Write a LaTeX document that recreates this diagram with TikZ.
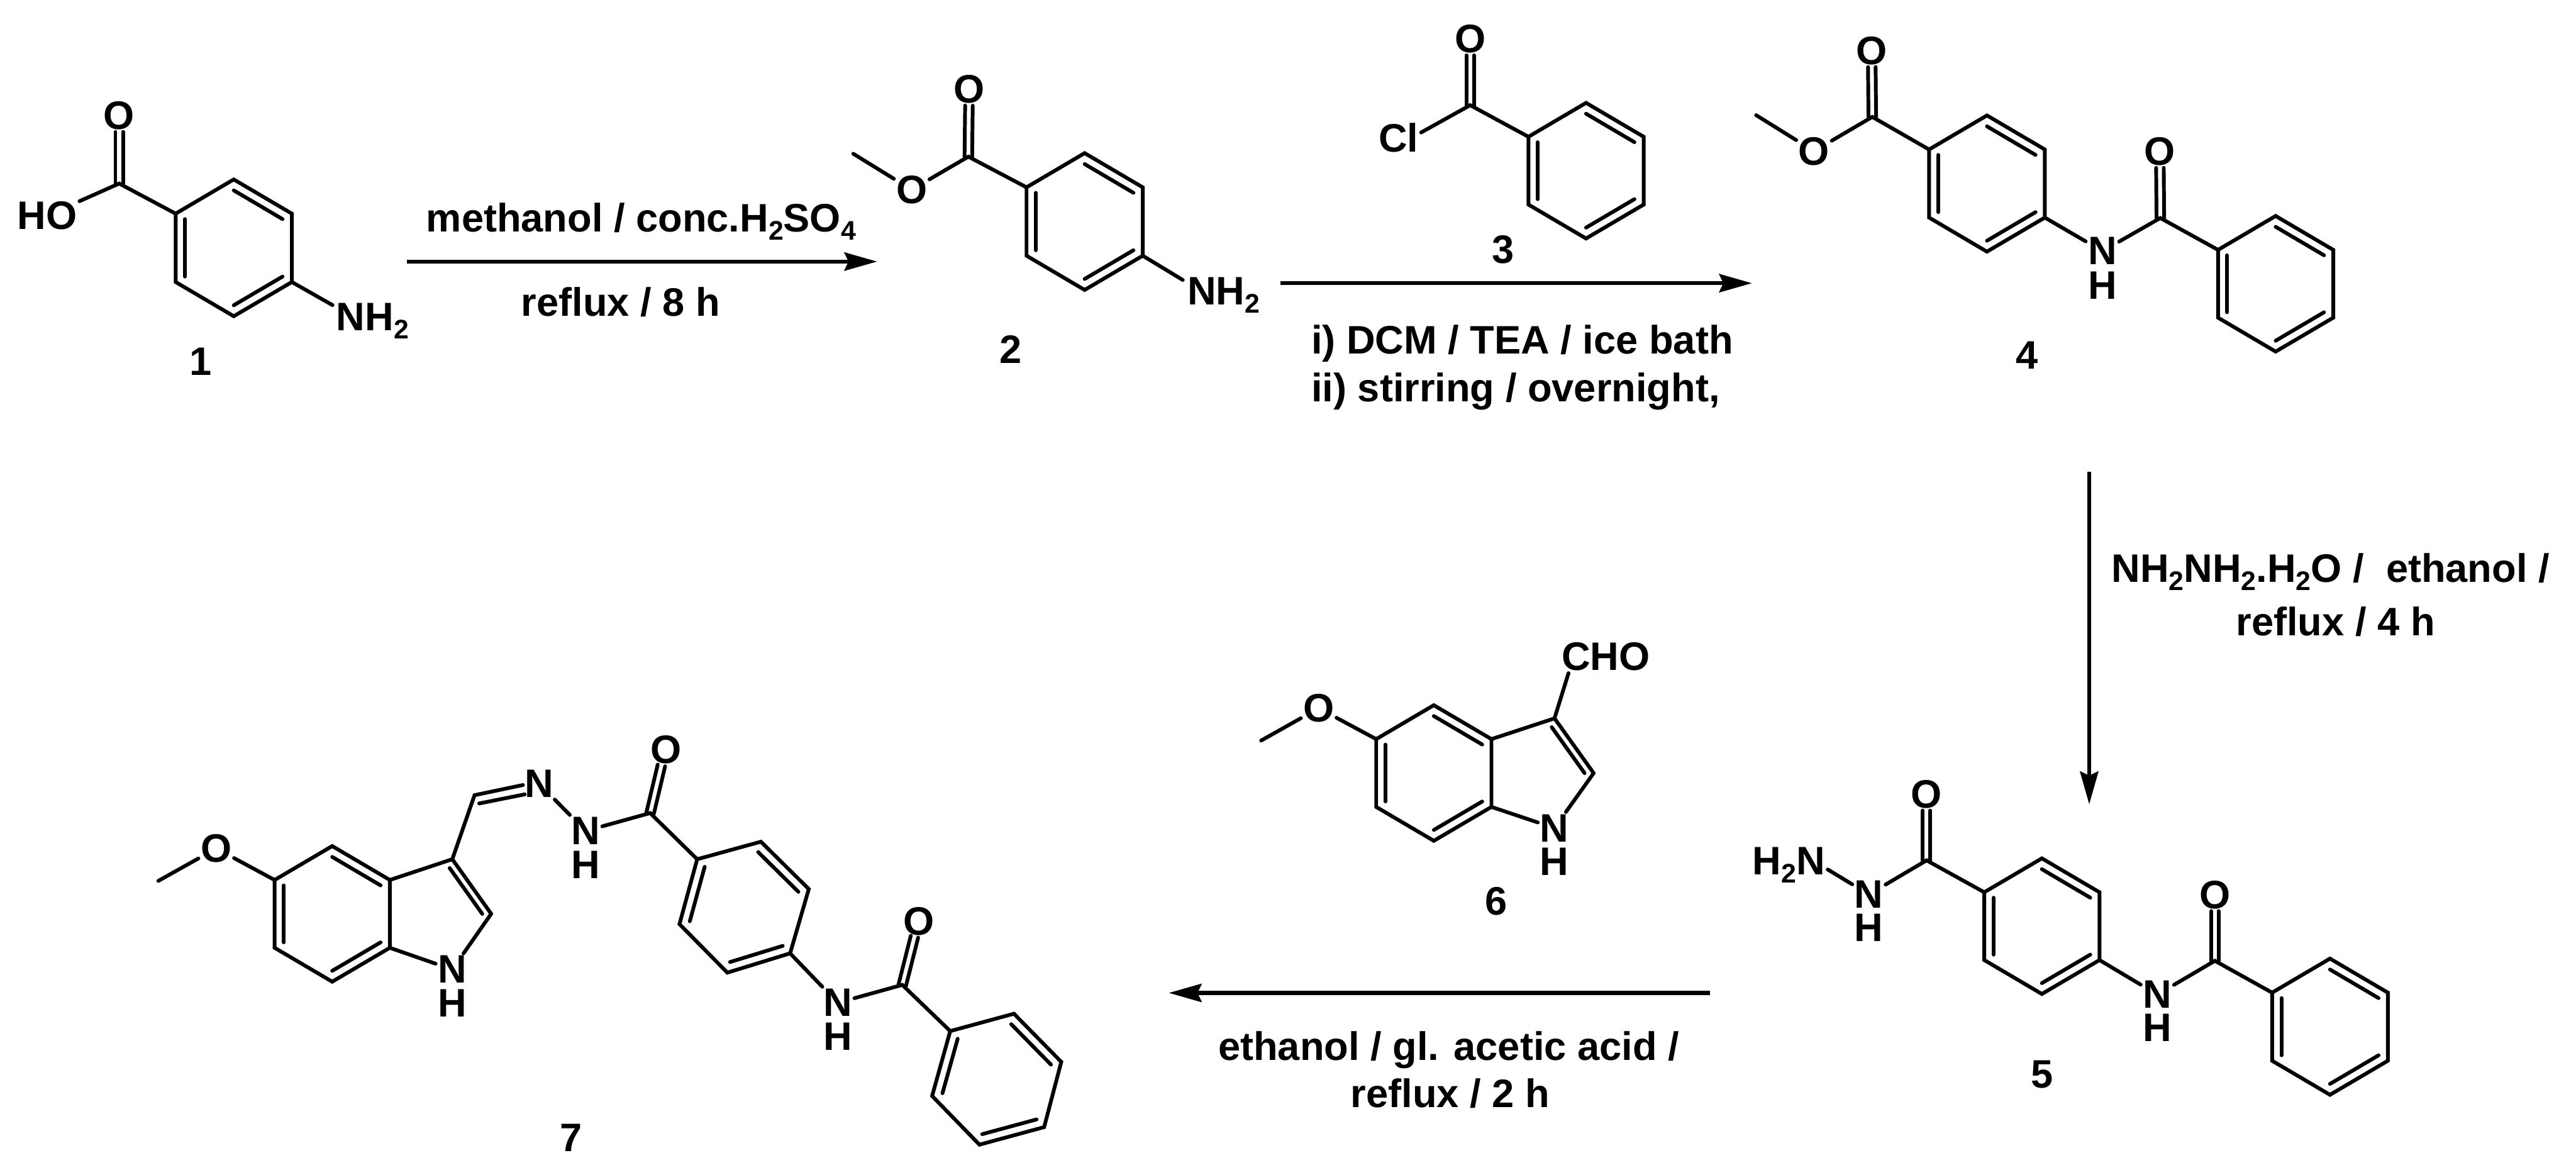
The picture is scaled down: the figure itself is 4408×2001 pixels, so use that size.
\documentclass[tikz,border=0pt]{standalone}
\usepackage{fontspec}
\setmainfont{Liberation Sans}
\usetikzlibrary{calc,arrows.meta}
\tikzset{
  bond/.style={line width=3.2pt,line cap=round,line join=miter,miter limit=6,black},
  rxn/.style={line width=3.5pt,black,-{Stealth[length=28pt,width=15.5pt,inset=3.5pt,sep=0pt]}},
  lab/.style={inner sep=0pt,outer sep=2pt,anchor=base,font=\fontsize{34}{40}\selectfont\bfseries,text=black},
  lablw/.style={lab,anchor=base west}
}
\newcommand{\ssub}[1]{\raisebox{-7pt}[0pt][0pt]{\fontsize{23}{23}\selectfont\bfseries #1}}
\newcommand{\innerbond}[3]{\draw[bond] ($(#1)!0.16!(#3)$) -- ($(#2)!0.16!(#3)$);}
\newcommand{\ringbody}[1]{%
  \draw[bond] (#1v1) -- (#1v2) -- (#1v3) -- (#1v4) -- (#1v5) -- (#1v6) -- cycle;
  \innerbond{#1v6}{#1v5}{#1C}
  \innerbond{#1v1}{#1v2}{#1C}
  \innerbond{#1v3}{#1v4}{#1C}}
\newcommand{\benz}[4]{%
  \coordinate (#1C) at (#2,#3);
  \coordinate (#1v1) at (#2,{#3-#4});
  \coordinate (#1v2) at ({#2+0.85*#4},{#3-0.5*#4});
  \coordinate (#1v3) at ({#2+0.85*#4},{#3+0.5*#4});
  \coordinate (#1v4) at (#2,{#3+#4});
  \coordinate (#1v5) at ({#2-0.85*#4},{#3+0.5*#4});
  \coordinate (#1v6) at ({#2-0.85*#4},{#3-0.5*#4});
  \ringbody{#1}}
% double C=O: two parallel strokes, from carbon #1 to end #2
\newcommand{\dbl}[2]{%
  \draw[bond] ($(#1)!6.5*0.5pt!90:(#2)$) -- ($(#2)!6.5*0.5pt!-90:(#1)$);
  \draw[bond] ($(#1)!6.5*0.5pt!-90:(#2)$) -- ($(#2)!6.5*0.5pt!90:(#1)$);}
\begin{document}
\begin{tikzpicture}[x=0.5pt,y=-0.5pt]
\useasboundingbox (0,0) rectangle (4408,2001);
\fill[white] (0,0) rectangle (4408,2001);

% ---------- compound 1
\benz{a}{400}{424}{117}
\coordinate (aC1) at (204,314);
\node[lab] (aO) at (204,221) {O};
\node[lab] (aHO) at (81,392) {HO};
\node[lab] (aNH) at (637.5,565) {NH\ssub{2}};
\coordinate (aNe) at (569,522);
\dbl{aC1}{aO.south}
\draw[bond] (aHO) -- (aC1) -- (av6);
\draw[bond] (av3) -- (aNe);
\node[lab] (aL) at (343,642) {1};

% ---------- compound 2
\benz{b}{1856}{379}{117}
\coordinate (bC1) at (1657,268);
\coordinate (bMe) at (1460,263);
\node[lab] (bO) at (1658,176) {O};
\node[lab] (bOe) at (1560,348) {O};
\node[lab] (bNH) at (2094,521) {NH\ssub{2}};
\coordinate (bNe) at (2024,479);
\dbl{bC1}{bO.south}
\draw[bond] (bOe) -- (bC1) -- (bv6);
\draw[bond] (bOe) -- (bMe);
\draw[bond] (bv3) -- (bNe);
\node[lab] (bL) at (1729,621) {2};

% ---------- compound 3
\benz{c}{2714}{292}{116}
\coordinate (cC1) at (2515.7,180);
\node[lab] (cO) at (2515.7,90) {O};
\node[lab] (cCl) at (2393,260) {Cl};
\coordinate (cCe) at (2431.7,226.7);
\dbl{cC1}{cO.south}
\draw[bond] (cCe) -- (cC1) -- (cv6);
\node[lab] (cL) at (2572,450) {3};

% ---------- compound 4
\benz{d}{3400}{314}{116.5}
\benz{e}{3894}{485.5}{116}
\coordinate (dC1) at (3203.8,200);
\coordinate (dC2) at (3696.7,373);
\coordinate (dMe) at (3005,197);
\node[lab] (dO) at (3203,110) {O};
\node[lab] (dOe) at (3104,282) {O};
\node[lab] (dN) at (3597.6,453) {N};
\node[lab] (dH) at (3597.6,511.7) {H};
\node[lab] (dO2) at (3696,282.5) {O};
\dbl{dC1}{dO.south}
\dbl{dC2}{dO2.south}
\draw[bond] (dOe) -- (dC1) -- (dv6);
\draw[bond] (dOe) -- (dMe);
\draw[bond] (dv3) -- (dN);
\draw[bond] (dN) -- (dC2) -- (ev6);
\node[lab] (dL) at (3469,631) {4};

% ---------- compound 5
\benz{f}{3494}{1584.5}{116}
\benz{g}{3987}{1756.5}{116.5}
\coordinate (fC1) at (3296.7,1471.9);
\coordinate (fC2) at (3790,1643.8);
\node[lab] (fO) at (3296.7,1382) {O};
\node[lab] (fN) at (3198,1553.6) {N};
\node[lab] (fH) at (3198,1610) {H};
\node[lab] (fH2N) at (3061,1496) {H\ssub{2}N};
\coordinate (fNe) at (3127.5,1487.5);
\node[lab] (fN2) at (3691.6,1725) {N};
\node[lab] (fH2) at (3691.6,1782) {H};
\node[lab] (fO2) at (3790,1554) {O};
\dbl{fC1}{fO.south}
\dbl{fC2}{fO2.south}
\draw[bond] (fN) -- (fC1) -- (fv6);
\draw[bond] (fNe) -- (fN);
\draw[bond] (fv3) -- (fN2);
\draw[bond] (fN2) -- (fC2) -- (gv6);
\node[lab] (fL) at (3494,1861) {5};

% ---------- compound 6
\benz{h}{2453.5}{1322.5}{116}
\coordinate (hC3) at (2660,1229);
\coordinate (hC2) at (2727,1322.7);
\coordinate (hP) at (2630,1323);
\coordinate (hMe) at (2158,1267);
\node[lab] (hO) at (2256.5,1235) {O};
\node[lab] (hCHO) at (2748,1147) {CHO};
\coordinate (hCe) at (2684,1151.6);
\node[lab] (hN) at (2660,1440) {N};
\node[lab] (hH) at (2660,1498) {H};
\draw[bond] (hv2) -- (hC3) -- (hC2);
\draw[bond] (hC3) -- (hCe);
\innerbond{hC3}{hC2}{hP}
\draw[bond] (hC2) -- (hN);
\draw[bond] (hv3) -- (hN);
\draw[bond] (hv6) -- (hO);
\draw[bond] (hO) -- (hMe);
\node[lab] (hL) at (2560,1565) {6};

% ---------- compound 7
\benz{k}{568.5}{1563.5}{116}
\coordinate (kC3) at (774,1470);
\coordinate (kC2) at (840.5,1563.4);
\coordinate (kP) at (745,1564);
\coordinate (kMe) at (271,1507);
\coordinate (kCH) at (812,1360.4);
\coordinate (kEa) at (895,1343);
\coordinate (kIa) at (820,1374.6);
\coordinate (kIb) at (898,1359);
\node[lab] (kO) at (370,1475) {O};
\node[lab] (kN) at (774,1682) {N};
\node[lab] (kH) at (774,1739.6) {H};
\node[lab] (kN1) at (922.4,1364) {N};
\node[lab] (kN2) at (1002,1445) {N};
\node[lab] (kH2) at (1002,1503) {H};
\node[lab] (kOa) at (1139.8,1306) {O};
\coordinate (kCa) at (1112.5,1391);
\coordinate (kCae) at (1131.8,1309.5);
\coordinate (mv1) at (1302,1440);
\coordinate (mv2) at (1384,1521);
\coordinate (mv3) at (1352,1631);
\coordinate (mv4) at (1244.6,1664);
\coordinate (mv5) at (1162.7,1581);
\coordinate (mv6) at (1193,1470);
\coordinate (mC) at (1273,1551);
\ringbody{m}
\node[lab] (kN3) at (1433.5,1739) {N};
\node[lab] (kH3) at (1433.5,1796.7) {H};
\node[lab] (kOb) at (1572,1600) {O};
\coordinate (kCb) at (1544,1685);
\coordinate (kCbe) at (1564.8,1602.5);
\coordinate (nv1) at (1735,1734.3);
\coordinate (nv2) at (1816,1816.7);
\coordinate (nv3) at (1786.7,1928.3);
\coordinate (nv4) at (1676,1958.3);
\coordinate (nv5) at (1595,1875);
\coordinate (nv6) at (1626,1764);
\coordinate (nC) at (1705.8,1846);
\ringbody{n}
\dbl{kCa}{kCae}
\dbl{kCb}{kCbe}
\draw[bond] (kv2) -- (kC3) -- (kC2);
\innerbond{kC3}{kC2}{kP}
\draw[bond] (kC2) -- (kN);
\draw[bond] (kv3) -- (kN);
\draw[bond] (kv6) -- (kO);
\draw[bond] (kO) -- (kMe);
\draw[bond] (kC3) -- (kCH) -- (kEa);
\draw[bond] (kIa) -- (kIb);
\draw[bond] (kN1) -- (kN2);
\draw[bond] (kN2) -- (kCa) -- (mv6);
\draw[bond] (mv3) -- (kN3);
\draw[bond] (kN3) -- (kCb) -- (nv6);
\node[lab] (kL) at (977,1970) {7};

% ---------- reaction arrows
\coordinate (r1a) at (696,447.5);   \coordinate (r1b) at (1501,447.5);
\coordinate (r2a) at (2191,484.5);  \coordinate (r2b) at (2998,484.5);
\coordinate (r3a) at (3575,807);    \coordinate (r3b) at (3575,1376);
\coordinate (r4a) at (2926,1698.7); \coordinate (r4b) at (2000,1698.7);
\draw[rxn] (r1a) -- (r1b);
\draw[rxn] (r2a) -- (r2b);
\draw[rxn] (r3a) -- (r3b);
\draw[rxn] (r4a) -- (r4b);

% ---------- conditions
\node[lab] (t1) at (1097,397) {methanol / conc.H\ssub{2}SO\ssub{4}};
\node[lab] (t2) at (1062,540.7) {reflux / 8 h};
\node[lablw] (t3) at (2240,605.7) {i) DCM / TEA / ice bath};
\node[lablw] (t4) at (2240,687) {ii) stirring / overnight,};
\node[lab] (t5) at (3988,995.7) {NH\ssub{2}NH\ssub{2}.H\ssub{2}O /~~ethanol /};
\node[lab] (t6) at (3996.5,1087) {reflux / 4 h};
\node[lab] (t7) at (2479,1813.5) {ethanol / gl. acetic acid /};
\node[lab] (t8) at (2481.5,1895) {reflux / 2 h};
\end{tikzpicture}
\end{document}
